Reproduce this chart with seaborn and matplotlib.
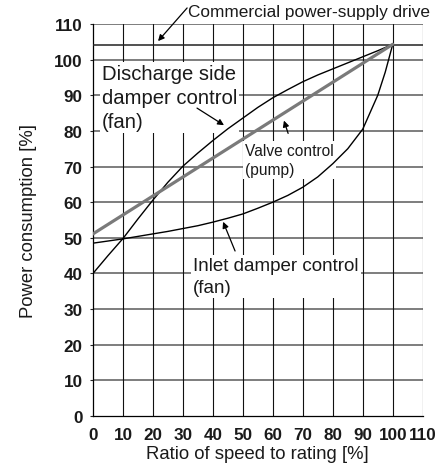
import matplotlib
matplotlib.use("Agg")
import matplotlib.pyplot as plt
import seaborn as sns
import pandas as pd

# speed ratio [%] and power consumption [%]
speed = [0, 5, 10, 15, 20, 25, 30, 35, 40, 45, 50, 55, 60, 65, 70, 75, 80, 85, 90, 95, 97.5, 100]
inlet_damper = [48.5, 49.1, 49.7, 50.4, 51.1, 51.8, 52.6, 53.4, 54.4, 55.5, 56.7, 58.3, 60.0,
                61.9, 64.2, 67.1, 70.8, 75.0, 80.5, 90.0, 96.5, 104.3]
discharge_damper = [40.0, 45.0, 49.8, 55.3, 60.6, 65.6, 70.1, 73.8, 77.3, 80.6, 83.6, 86.6,
                    89.3, 91.6, 93.8, 95.7, 97.4, 99.1, 100.8, 102.5, 103.4, 104.3]
valve_speed = [0, 100]
valve_control = [51.1, 104.3]
commercial_speed = [0, 110]
commercial_drive = [104.2, 104.2]

x_ticks = list(range(0, 111, 10))
y_ticks = list(range(0, 111, 10))

sns.set_style("white")
plt.rcParams["font.family"] = ["Liberation Sans", "DejaVu Sans"]

fig = plt.figure(figsize=(4.46, 4.77), dpi=100)
ax = fig.add_axes([0.2085, 0.1258, 0.7393, 0.8218])

# grid: grey horizontals, black verticals
for yv in y_ticks[1:]:
    ax.axhline(yv, color="#5a5a5a", lw=1.1, zorder=1)
for xv in x_ticks[1:]:
    ax.axvline(xv, color="#111111", lw=0.8, zorder=1)

df_inlet = pd.DataFrame({"speed": speed, "power": inlet_damper})
df_dis = pd.DataFrame({"speed": speed, "power": discharge_damper})
df_valve = pd.DataFrame({"speed": valve_speed, "power": valve_control})
df_comm = pd.DataFrame({"speed": commercial_speed, "power": commercial_drive})

sns.lineplot(data=df_comm, x="speed", y="power", ax=ax, color="#222222", lw=1.1, zorder=4)
sns.lineplot(data=df_inlet, x="speed", y="power", ax=ax, color="black", lw=1.0,
             sort=False, estimator=None, zorder=4)
sns.lineplot(data=df_dis, x="speed", y="power", ax=ax, color="black", lw=1.0,
             sort=False, estimator=None, zorder=4)
sns.lineplot(data=df_valve, x="speed", y="power", ax=ax, color="#7a7a7a", lw=2.3, zorder=5)

ax.set_xlim(0, 110)
ax.set_ylim(0, 110)
ax.set_xticks(x_ticks)
ax.set_yticks(y_ticks)
ax.tick_params(axis="x", length=0, pad=8, labelsize=12.3)
ax.tick_params(axis="y", length=2.5, width=0.8, pad=5, labelsize=12.3, direction="out", left=True)
for lab in ax.get_xticklabels() + ax.get_yticklabels():
    lab.set_fontweight("bold")
    lab.set_color("#1a1a1a")

for side in ["top", "right"]:
    ax.spines[side].set_visible(False)
for side in ["left", "bottom"]:
    ax.spines[side].set_color("black")
    ax.spines[side].set_linewidth(0.9)

ax.set_xlabel("Ratio of speed to rating [%]", fontsize=13.3, labelpad=2, color="#1a1a1a")
ax.set_ylabel("Power consumption [%]", fontsize=13.3, labelpad=12, color="#1a1a1a")

box = dict(facecolor="white", edgecolor="none", pad=1.5)
arrow = dict(arrowstyle="-|>", color="black", lw=0.9, mutation_scale=9, shrinkA=0, shrinkB=0)

ax.text(31.7, 113.5, "Commercial power-supply drive", fontsize=12.4, ha="left", va="center",
        color="#1a1a1a", clip_on=False)
ax.annotate("", xy=(21.7, 105.2), xytext=(31.4, 114.5), arrowprops=arrow, annotation_clip=False)

ax.text(3.0, 89.4, "Discharge side\ndamper control\n(fan)", fontsize=14.6, ha="left",
        va="center", linespacing=1.32, color="#1a1a1a", bbox=box, zorder=3)
ax.annotate("", xy=(43.7, 81.6), xytext=(34.7, 86.4), arrowprops=arrow, zorder=6)

ax.text(50.7, 71.9, "Valve control\n(pump)", fontsize=11.2, ha="left", va="center",
        linespacing=1.3, color="#1a1a1a", bbox=box, zorder=3)
ax.annotate("", xy=(63.7, 82.9), xytext=(65.1, 79.3), arrowprops=arrow, zorder=6)

ax.text(33.4, 39.1, "Inlet damper control\n(fan)", fontsize=13.5, ha="left", va="center",
        linespacing=1.35, color="#1a1a1a", bbox=box, zorder=3)
ax.annotate("", xy=(43.4, 54.5), xytext=(47.4, 46.3), arrowprops=arrow, zorder=6)

fig.savefig("out.png", dpi=100)
